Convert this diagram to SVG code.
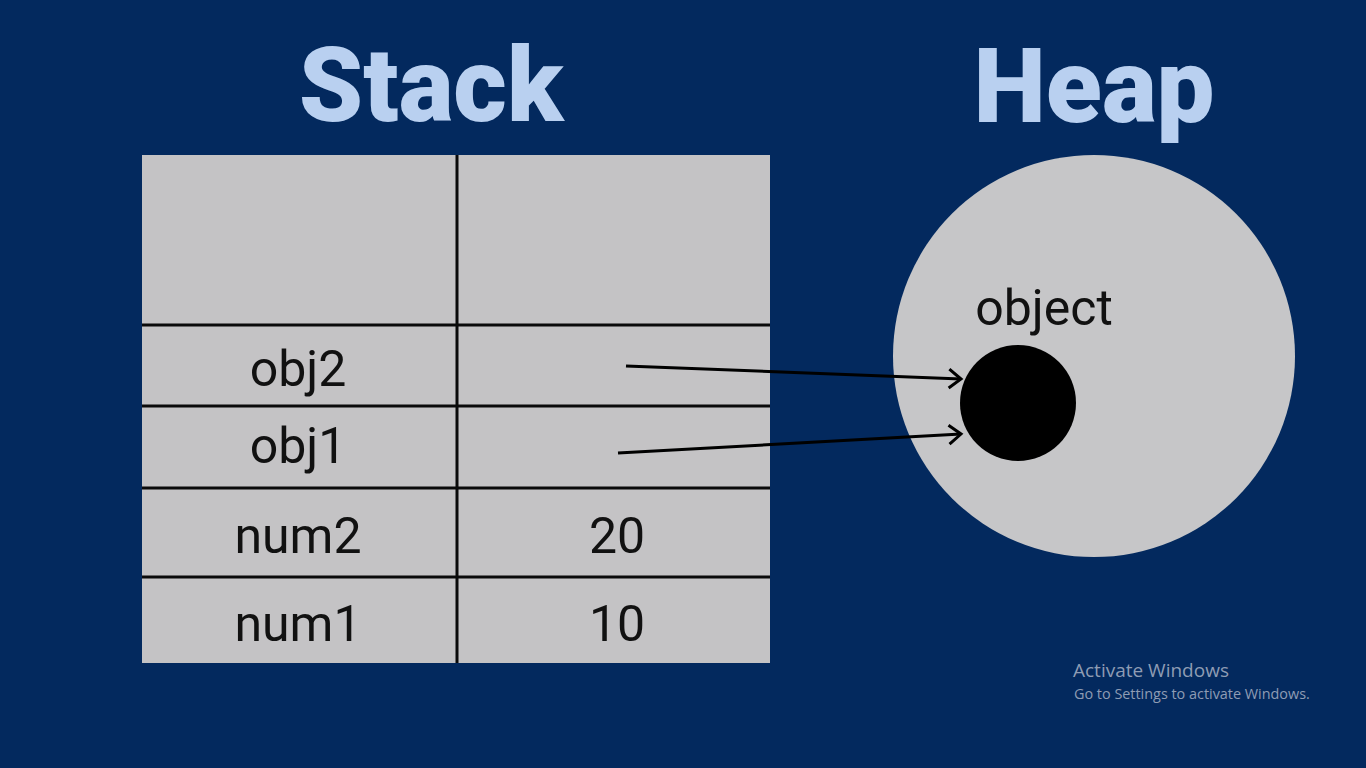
<svg xmlns="http://www.w3.org/2000/svg" width="1366" height="768" viewBox="0 0 1366 768">
<defs>
<style>
.title{font-family:Roboto,"Liberation Sans",sans-serif;font-weight:900;font-size:103px;fill:#b9d0f0;text-anchor:middle}
.cell{font-family:Roboto,"Liberation Sans",sans-serif;font-size:50px;fill:#111;text-anchor:middle}
.grid{stroke:#0a0a0a;stroke-width:3}
.conn{stroke:#000;stroke-width:3;fill:none}
.wm{font-family:"Open Sans","Noto Sans",sans-serif;fill:#8e9cb4}
</style>
<marker id="arr" markerWidth="18" markerHeight="24" refX="14" refY="11" orient="auto" markerUnits="userSpaceOnUse">
<path d="M2,1.5 L14,11 L2,20.5" fill="none" stroke="#000" stroke-width="3"/>
</marker>
</defs>
<rect width="1366" height="768" fill="#03295e"/>
<text class="title" x="431" y="121">Stack</text>
<text class="title" x="1094" y="122">Heap</text>
<g id="stack">
<rect x="142" y="155" width="628" height="508" fill="#c4c3c5"/>
<line class="grid" x1="457" y1="155" x2="457" y2="663"/>
<line class="grid" x1="142" y1="325" x2="770" y2="325"/>
<line class="grid" x1="142" y1="406" x2="770" y2="406"/>
<line class="grid" x1="142" y1="488" x2="770" y2="488"/>
<line class="grid" x1="142" y1="577" x2="770" y2="577"/>
</g>
<g id="row-obj2"><text class="cell" x="298" y="386">obj2</text></g>
<g id="row-obj1"><text class="cell" x="298" y="463">obj1</text></g>
<g id="row-num2"><text class="cell" x="298" y="553">num2</text><text class="cell" x="617" y="553">20</text></g>
<g id="row-num1"><text class="cell" x="298" y="641">num1</text><text class="cell" x="617" y="641">10</text></g>
<g id="heap">
<circle cx="1094" cy="356" r="201" fill="#c6c6c8"/>
<text class="cell" x="1044" y="325">object</text>
</g>
<g id="object">
<circle cx="1018" cy="403" r="58" fill="#000"/>
</g>
<g id="connectors">
<line class="conn" x1="626" y1="366" x2="961" y2="379" marker-end="url(#arr)"/>
<line class="conn" x1="618" y1="453" x2="961" y2="434" marker-end="url(#arr)"/>
</g>
<text class="wm" x="1073" y="677" font-size="19">Activate Windows</text>
<text class="wm" x="1074" y="699" font-size="14.4">Go to Settings to activate Windows.</text>
</svg>
